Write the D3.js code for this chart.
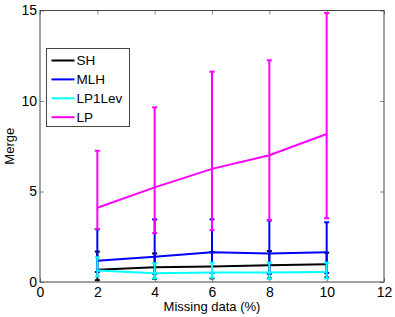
<!DOCTYPE html>
<html>
<head>
<meta charset="utf-8">
<script src="https://cdn.jsdelivr.net/npm/d3@7"></script>
<style>
  body { margin: 0; background: #fff; }
  text { font-family: "Liberation Sans", Arial, sans-serif; }
</style>
</head>
<body>
<script>
// DATA
const missing = [2, 4, 6, 8, 10];
const seriesNames = ["SH", "MLH", "LP1Lev", "LP"];
const seriesColors = ["#000000", "#0000ff", "#00ffff", "#ff00ff"];

const shMean = [0.68, 0.81, 0.85, 0.92, 0.98];
const shLow = [0.1, 0.18, 0.2, 0.2, 0.25];
const shHigh = [1.68, 1.58, 1.65, 1.71, 1.62];

const mlhMean = [1.18, 1.40, 1.64, 1.57, 1.64];
const mlhLow = [0.55, 0.45, 0.5, 0.45, 0.5];
const mlhHigh = [2.91, 3.46, 3.46, 3.4, 3.3];

const lp1Mean = [0.63, 0.48, 0.52, 0.52, 0.55];
const lp1Low = [0.3, 0.2, 0.24, 0.18, 0.2];
const lp1High = [1.36, 1.03, 1.07, 1.07, 1.07];

const lpMean = [4.1, 5.23, 6.25, 7.0, 8.18];
const lpLow = [2.93, 2.7, 2.87, 3.42, 3.52];
const lpHigh = [7.25, 9.65, 11.62, 12.25, 14.86];

const xTicks = [0, 2, 4, 6, 8, 10, 12];
const yTicks = [0, 5, 10, 15];

const series = [
  { mean: shMean, low: shLow, high: shHigh },
  { mean: mlhMean, low: mlhLow, high: mlhHigh },
  { mean: lp1Mean, low: lp1Low, high: lp1High },
  { mean: lpMean, low: lpLow, high: lpHigh },
].map((s, i) => ({ ...s, name: seriesNames[i], color: seriesColors[i] }));

// LAYOUT
const width = 395, height = 317;
const margin = { top: 10.5, right: 11, bottom: 35, left: 40 };

const svg = d3.select("body").append("svg")
  .attr("width", width)
  .attr("height", height);

const xScale = d3.scaleLinear().domain([0, 12]).range([margin.left, width - margin.right]);
const yScale = d3.scaleLinear().domain([0, 15]).range([height - margin.bottom, margin.top]);

// AXES (matlab style: inward ticks on all four sides)
const styleAxis = (g) => {
  g.select(".domain").remove();
  g.selectAll(".tick line").attr("stroke", "#888");
  g.selectAll(".tick text").attr("fill", "#000").style("font-size", "14px")
    .style("font-family", "Liberation Sans, Arial, sans-serif");
};

svg.append("g")
  .attr("transform", `translate(0,${yScale(0)})`)
  .call(d3.axisBottom(xScale).tickValues(xTicks).tickSizeInner(-4).tickPadding(5))
  .call(styleAxis);

svg.append("g")
  .attr("transform", `translate(0,${margin.top})`)
  .call(d3.axisTop(xScale).tickValues(xTicks).tickSizeInner(-4).tickFormat(""))
  .call(styleAxis);

svg.append("g")
  .attr("transform", `translate(${margin.left},0)`)
  .call(d3.axisLeft(yScale).tickValues(yTicks).tickSizeInner(-4).tickPadding(3))
  .call(styleAxis);

svg.append("g")
  .attr("transform", `translate(${xScale(12)},0)`)
  .call(d3.axisRight(yScale).tickValues(yTicks).tickSizeInner(-4).tickFormat(""))
  .call(styleAxis);

// box edges
svg.append("rect")
  .attr("x", margin.left)
  .attr("y", margin.top)
  .attr("width", xScale(12) - margin.left)
  .attr("height", yScale(0) - margin.top)
  .attr("fill", "none")
  .attr("stroke", "#444")
  .attr("stroke-width", 1);

// LABELS
svg.append("text")
  .attr("x", (margin.left + xScale(12)) / 2)
  .attr("y", 311)
  .attr("text-anchor", "middle")
  .style("font-size", "13px")
  .text("Missing data (%)");

svg.append("text")
  .attr("transform", `translate(14,${(margin.top + yScale(0)) / 2}) rotate(-90)`)
  .attr("text-anchor", "middle")
  .style("font-size", "13px")
  .text("Merge");

// SERIES
const line = d3.line()
  .x((d) => xScale(d.x))
  .y((d) => yScale(d.y));

const capW = 2.5;
series.forEach((s) => {
  const pts = missing.map((x, i) => ({ x, y: s.mean[i], lo: s.low[i], hi: s.high[i] }));
  const g = svg.append("g");
  g.selectAll("line.err")
    .data(pts)
    .enter()
    .append("line")
    .attr("x1", (d) => xScale(d.x))
    .attr("x2", (d) => xScale(d.x))
    .attr("y1", (d) => yScale(d.lo))
    .attr("y2", (d) => yScale(d.hi))
    .attr("stroke", s.color)
    .attr("stroke-width", 2);
  ["lo", "hi"].forEach((k) => {
    g.selectAll(`line.cap-${k}`)
      .data(pts)
      .enter()
      .append("line")
      .attr("x1", (d) => xScale(d.x) - capW)
      .attr("x2", (d) => xScale(d.x) + capW)
      .attr("y1", (d) => yScale(d[k]))
      .attr("y2", (d) => yScale(d[k]))
      .attr("stroke", s.color)
      .attr("stroke-width", 2);
  });
  g.append("path")
    .datum(pts)
    .attr("d", line)
    .attr("fill", "none")
    .attr("stroke", s.color)
    .attr("stroke-width", 2);
});

// LEGEND
const legend = svg.append("g").attr("transform", "translate(46.5,48.5)");
legend.append("rect")
  .attr("width", 83)
  .attr("height", 78)
  .attr("fill", "#fff")
  .attr("stroke", "#444")
  .attr("stroke-width", 1);

series.forEach((s, i) => {
  const y = 12 + i * 18.9;
  legend.append("line")
    .attr("x1", 5).attr("x2", 28)
    .attr("y1", y).attr("y2", y)
    .attr("stroke", s.color)
    .attr("stroke-width", 2);
  legend.append("text")
    .attr("x", 30)
    .attr("y", y + 4.5)
    .style("font-size", "13.5px")
    .text(s.name);
});
</script>
</body>
</html>
